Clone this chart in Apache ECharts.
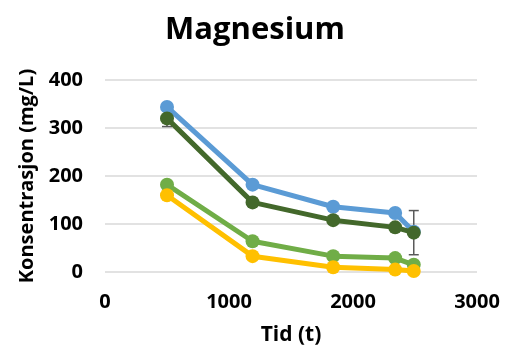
<!DOCTYPE html>
<html>
<head>
<meta charset="utf-8">
<script src="https://cdn.jsdelivr.net/npm/echarts@6/dist/echarts.min.js"></script>
<style>
  html, body { margin: 0; padding: 0; background: #fff; }
  #myChart { width: 510px; height: 360px; }
</style>
</head>
<body>
<div id="myChart"></div>
<script>
// data
const timeValues = [500, 1190, 1840, 2340, 2490];
const seriesBlue = [344, 182, 136, 123, 84];
const seriesDarkGreen = [320, 145, 108, 93, 82];
const seriesLightGreen = [182, 64, 33, 29, 15];
const seriesYellow = [160, 33, 10, 5, 2];
const darkGreenErr = [17, 8, 0, 0, 46];
const blueErr = [0, 0, 8, 0, 0];

const xTicks = [0, 1000, 2000, 3000];
const yTicks = [0, 100, 200, 300, 400];

function pairs(vals) {
  return timeValues.map(function (t, i) { return [t, vals[i]]; });
}

function errData(vals, errs) {
  const out = [];
  timeValues.forEach(function (t, i) {
    if (errs[i] > 0) out.push([t, vals[i] - errs[i], vals[i] + errs[i]]);
  });
  return out;
}

function lineSeries(name, color, vals, z) {
  return {
    name: name,
    type: "line",
    data: pairs(vals),
    symbol: "circle",
    symbolSize: 14,
    z: z,
    lineStyle: { color: color, width: 5 },
    itemStyle: { color: color },
    emphasis: { disabled: true }
  };
}

function errorSeries(vals, errs) {
  return {
    type: "custom",
    z: 1,
    data: errData(vals, errs),
    renderItem: function (params, api) {
      const lo = api.coord([api.value(0), api.value(1)]);
      const hi = api.coord([api.value(0), api.value(2)]);
      const w = 5;
      const style = { stroke: "#595959", lineWidth: 1.5 };
      return {
        type: "group",
        children: [
          { type: "line", shape: { x1: lo[0], y1: lo[1], x2: hi[0], y2: hi[1] }, style: style },
          { type: "line", shape: { x1: lo[0] - w, y1: lo[1], x2: lo[0] + w, y2: lo[1] }, style: style },
          { type: "line", shape: { x1: hi[0] - w, y1: hi[1], x2: hi[0] + w, y2: hi[1] }, style: style }
        ]
      };
    }
  };
}

let myChart = echarts.init(document.getElementById("myChart"));
const font = "'Open Sans', sans-serif";

myChart.setOption({
  animation: false,
  textStyle: { fontFamily: font },
  title: {
    text: "Magnesium",
    left: "center",
    top: 10,
    textStyle: { fontFamily: font, fontWeight: "bold", fontSize: 31, color: "#000" }
  },
  grid: { left: 105, right: 33, top: 80, bottom: 88 },
  xAxis: {
    type: "value",
    min: xTicks[0],
    max: xTicks[xTicks.length - 1],
    interval: 1000,
    name: "Tid (t)",
    nameLocation: "middle",
    nameGap: 53,
    nameTextStyle: { fontFamily: font, fontWeight: "bold", fontSize: 21, color: "#000" },
    axisLine: { show: false },
    axisTick: { show: false },
    splitLine: { show: false },
    axisLabel: {
      margin: 20, fontFamily: font, fontWeight: "bold", fontSize: 20, color: "#000",
      formatter: function (v) { return String(v); }
    }
  },
  yAxis: {
    type: "value",
    min: yTicks[0],
    max: yTicks[yTicks.length - 1],
    interval: 100,
    name: "Konsentrasjon (mg/L)",
    nameLocation: "middle",
    nameGap: 68,
    nameTextStyle: { fontFamily: font, fontWeight: "bold", fontSize: 20, color: "#000" },
    axisLine: { show: false },
    axisTick: { show: false },
    splitLine: { lineStyle: { color: "#D9D9D9", width: 1.5 } },
    axisLabel: {
      margin: 22, fontFamily: font, fontWeight: "bold", fontSize: 20, color: "#000",
      formatter: function (v) { return String(v); }
    }
  },
  series: [
    errorSeries(seriesDarkGreen, darkGreenErr),
    errorSeries(seriesBlue, blueErr),
    lineSeries("Serie 1", "#5B9BD5", seriesBlue, 2),
    lineSeries("Serie 2", "#70AD47", seriesLightGreen, 3),
    lineSeries("Serie 3", "#43682B", seriesDarkGreen, 4),
    lineSeries("Serie 4", "#FFC000", seriesYellow, 5)
  ]
});
</script>
</body>
</html>
